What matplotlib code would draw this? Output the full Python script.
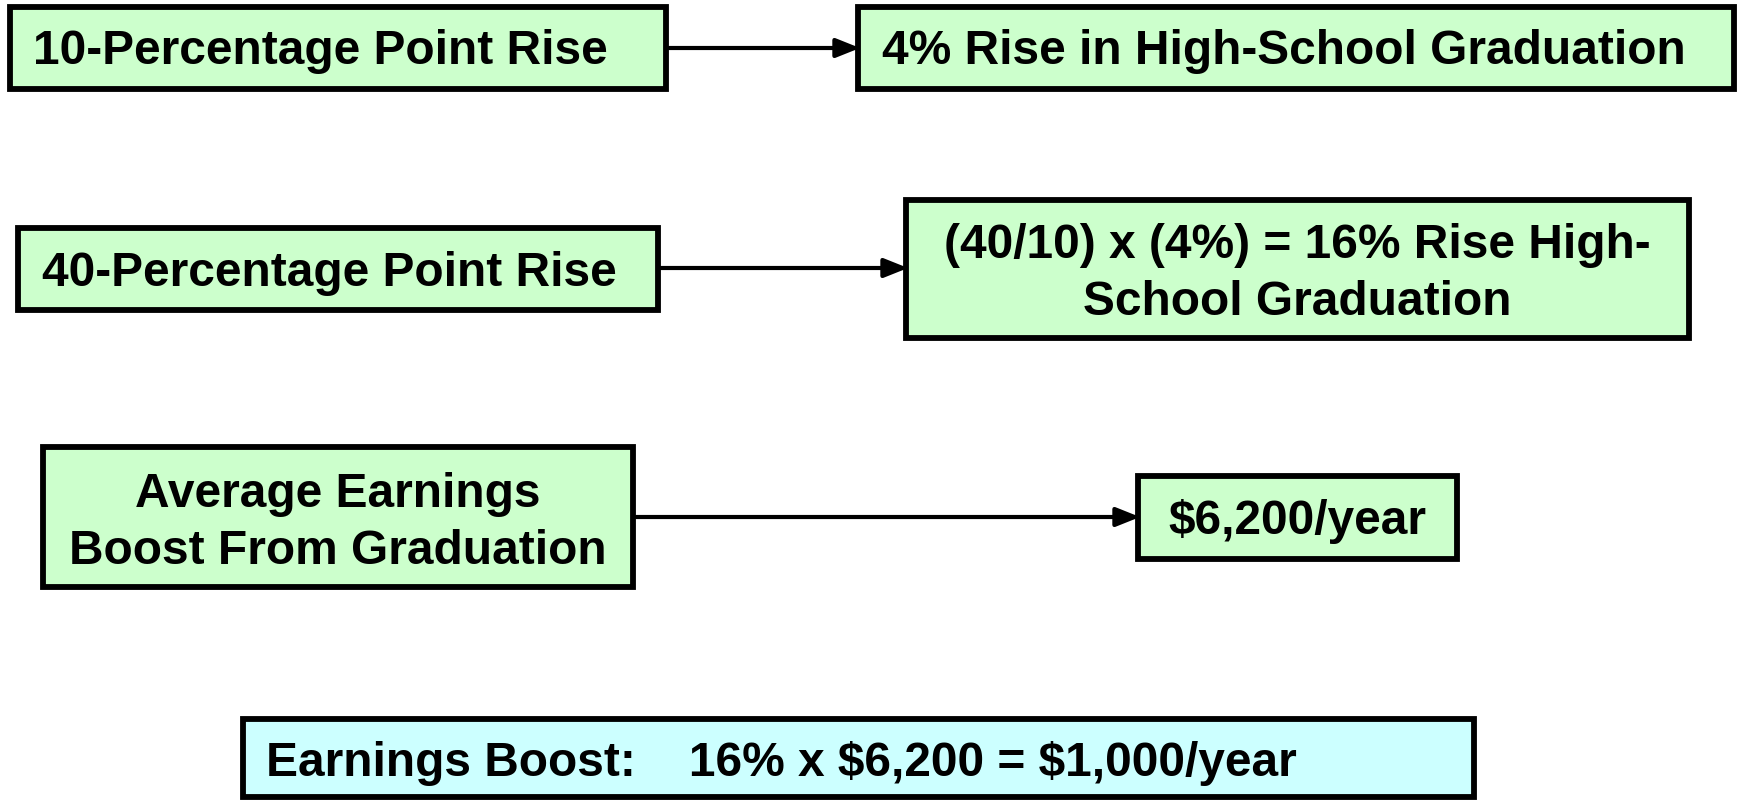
import matplotlib.pyplot as plt
from matplotlib.patches import Rectangle

# box texts
left_labels = ["10-Percentage Point Rise", "40-Percentage Point Rise",
               "Average Earnings\nBoost From Graduation"]
right_labels = ["4% Rise in High-School Graduation",
                "(40/10) x (4%) = 16% Rise High-\nSchool Graduation",
                "$6,200/year"]
result_label = "Earnings Boost:    16% x $6,200 = $1,000/year"

green = "#CCFFCC"
cyan = "#CCFFFF"

# layout in pixels: (x0, y0, x1, y1), text anchor
left_boxes = [(10, 7, 666, 89), (18, 228, 658, 310), (43, 447, 633, 587)]
left_text = [(33, 52, "left"), (42, 273, "left"), (338, 523, "center")]
right_boxes = [(858, 7, 1734, 89), (906, 200, 1689, 338), (1138, 476, 1457, 559)]
right_text = [(882, 52, "left"), (1297, 274, "center"), (1297, 521, "center")]
arrow_y = [48, 268, 517]
result_box = (243, 719, 1474, 797)

plt.rcParams['font.family'] = ['Liberation Sans', 'DejaVu Sans']

fig = plt.figure(figsize=(17.39, 8.01), dpi=100)
ax = fig.add_axes([0, 0, 1, 1])
ax.set_xlim(0, 1739)
ax.set_ylim(801, 0)
ax.axis('off')

def box(b, fc):
    x0, y0, x1, y1 = b
    ax.add_patch(Rectangle((x0, y0), x1 - x0, y1 - y0, facecolor=fc,
                           edgecolor='black', linewidth=4.2, zorder=2))

fs = 34.5
for i in range(3):
    ax.annotate("", xy=(right_boxes[i][0] + 2, arrow_y[i]),
                xytext=(left_boxes[i][2] + 3, arrow_y[i]),
                arrowprops=dict(arrowstyle='-|>,head_length=0.4,head_width=0.16',
                                color='black', lw=3.0,
                                mutation_scale=36, shrinkA=0, shrinkB=0),
                zorder=1)
    box(left_boxes[i], green)
    box(right_boxes[i], green)
    tx, ty, ha = left_text[i]
    ax.text(tx, ty, left_labels[i], ha=ha, va='center', fontsize=fs,
            fontweight='bold', linespacing=1.32, parse_math=False, zorder=3)
    tx, ty, ha = right_text[i]
    ax.text(tx, ty, right_labels[i], ha=ha, va='center', fontsize=fs,
            fontweight='bold', linespacing=1.32, parse_math=False, zorder=3)

box(result_box, cyan)
ax.text(266, 764, result_label, ha='left', va='center', fontsize=fs,
        fontweight='bold', parse_math=False, zorder=3)

fig.savefig("out.png", dpi=100)
